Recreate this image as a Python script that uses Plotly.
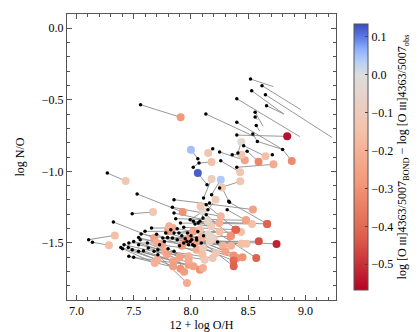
import plotly.graph_objects as go

# black dot = observed, coloured circle = BOND model; None = no model colour
x_obs = [8.52, 8.62, 8.53, 8.65, 8.40, 8.66, 8.56, 8.56, 8.57, 8.40, 8.13, 8.54, 8.58, 8.71, 8.02,
         8.40, 8.06, 8.07, 8.19, 8.25, 8.26, 8.41, 8.36, 8.40, 8.46, 8.49, 8.80, 8.14, 8.11, 8.18,
         8.33, 8.25, 7.56, 7.27,
         7.487, 7.530, 7.323, 7.852, 7.838, 7.852, 7.867, 7.909, 7.937, 7.656, 7.599, 7.565, 7.543,
         7.500, 7.458, 7.416, 7.388, 7.403, 7.453, 7.487, 7.543, 7.557, 7.458, 7.500, 7.543, 7.585,
         7.627, 7.678, 7.711, 7.711, 7.726, 7.768, 7.754, 7.796, 7.838, 7.852, 7.824, 7.880, 7.895,
         7.937, 7.965, 7.979, 7.993, 8.007, 8.015, 8.049, 8.063, 8.078, 8.021, 8.035, 7.993, 8.105,
         8.133, 8.148, 8.133, 8.162, 8.316, 8.336, 8.232, 7.852, 7.107, 7.140,
         7.90, 7.92, 7.95, 7.97, 8.00, 8.03, 8.05, 8.06, 8.09, 8.11, 7.88, 7.78, 7.70, 7.62, 7.80]
y_obs = [-0.356, -0.402, -0.437, -0.465, -0.493, -0.542, -0.588, -0.621, -0.681, -0.658, -0.600,
         -0.740, -0.791, -0.884, -0.972,
         -0.747, -0.912, -0.942, -0.842, -0.865, -0.926, -0.872, -0.884, -0.972, -0.821, -0.860,
         -0.847, -1.093, -1.186, -1.163, -1.209, -1.116, -0.535, -1.012,
         -1.296, -1.158, -1.354, -1.198, -1.251, -1.291, -1.331, -1.361, -1.391, -1.396, -1.419,
         -1.438, -1.461, -1.489, -1.500, -1.512, -1.531, -1.540, -1.531, -1.547, -1.512, -1.477,
         -1.593, -1.600, -1.558, -1.554, -1.535, -1.558, -1.547, -1.582, -1.512, -1.489, -1.465,
         -1.461, -1.465, -1.431, -1.407, -1.477, -1.431, -1.500, -1.489, -1.512, -1.489, -1.477,
         -1.512, -1.465, -1.361, -1.349, -1.349, -1.368, -1.338, -1.326, -1.303, -1.268, -1.233,
         -1.221, -1.268, -1.216, -1.493, -1.558, -1.477, -1.495,
         -1.52, -1.45, -1.47, -1.43, -1.45, -1.52, -1.48, -1.42, -1.50, -1.45, -1.40, -1.43, -1.44,
         -1.50, -1.54]
x_mod = [8.72, 8.96, 8.81, 9.23, 8.95, 8.81, 8.63, 8.58, 8.60, 8.80, 8.55, 8.58, 8.79, 8.72, 8.07,
         8.84, 8.00, 8.18, 8.15, 8.47, 8.43, 8.44, 8.44, 8.72, 8.65, 8.59, 8.88, 8.06, 8.18, 8.26,
         8.27, 8.43, 7.91, 7.43,
         7.669, 7.928, 7.680, 8.541, 8.260, 8.246, 8.480, 8.533, 8.387, 7.840, 7.800, 7.951, 7.750,
         7.770, 7.700, 7.790, 7.706, 7.684, 7.844, 7.844, 7.979, 8.035, 7.909, 7.979, 8.021, 8.078,
         8.105, 8.120, 8.190, 7.965, 8.049, 8.105, 8.091, 8.162, 8.344, 8.078, 7.810, 8.443, 8.437,
         8.485, 8.592, 8.400, 8.373, 8.747, 8.373, 8.373, 8.148, 8.570, 8.665, 8.176, 8.105, 8.083,
         8.350, 8.215, 8.395, 8.180, 8.480, 8.665, 8.443, 7.940, 7.335, 7.284,
         8.10, 8.20, 8.28, 8.15, 8.30, 8.22, 8.45, 8.25, 8.35, 8.18, 8.02, 7.98, 7.92, 7.90, 7.98]
y_mod = [-0.409, -0.570, -0.600, -0.763, -0.758, -0.600, -0.686, -0.640, -0.720, -0.847, -0.756,
         -0.791, -0.845, -0.886, -0.940,
         -0.756, -0.849, -0.935, -0.872, -0.923, -1.007, -0.795, -0.884, -0.951, -0.895, -0.933,
         -0.928, -1.012, -1.053, -1.058, -1.112, -1.070, -0.623, -1.067,
         -1.284, -1.284, -1.466, -1.267, -1.314, -1.361, -1.342, -1.367, -1.407, -1.395, -1.419,
         -1.489, -1.510, -1.558, -1.500, -1.580, -1.617, -1.640, -1.628, -1.663, -1.593, -1.500,
         -1.680, -1.652, -1.663, -1.687, -1.675, -1.617, -1.605, -1.780, -1.547, -1.535, -1.465,
         -1.489, -1.454, -1.407, -1.384, -1.505, -1.423, -1.505, -1.488, -1.605, -1.588, -1.507,
         -1.623, -1.663, -1.349, -1.605, -1.367, -1.384, -1.279, -1.244, -1.449, -1.198, -1.407,
         -1.230, -1.342, -1.367, -1.505, -1.700, -1.447, -1.516,
         -1.58, -1.47, -1.52, -1.44, -1.56, -1.57, -1.60, -1.42, -1.52, -1.46, -1.42, -1.47, -1.52,
         -1.60, -1.62]
delta = [None, None, None, None, None, None, None, None, None, None, None, None, None, None, None,
         -0.55, 0.05, -0.15, -0.12, -0.25, -0.12, -0.03, -0.12, -0.22, -0.15, -0.33, -0.32, 0.12,
         -0.08, 0.04, -0.12, -0.12, -0.28, -0.12,
         -0.12, -0.30, -0.25, -0.25, -0.18, -0.20, -0.25, -0.15, -0.42, -0.22, -0.28, -0.30, -0.25,
         -0.22, -0.22, -0.25, -0.20, -0.20, -0.25, -0.27, -0.20, -0.25, -0.30, -0.27, -0.25, -0.30,
         -0.20, -0.10, -0.12, -0.22, -0.22, -0.10, -0.20, -0.08, -0.30, -0.15, -0.20, -0.15, -0.15,
         -0.15, -0.45, -0.30, -0.30, -0.52, -0.40, -0.42, -0.05, -0.42, -0.42, -0.10, -0.03, -0.12,
         -0.30, -0.10, -0.42, None, -0.25, -0.42, -0.15, -0.27, -0.15, -0.15,
         -0.15, -0.10, -0.20, -0.05, -0.25, -0.12, -0.30, -0.15, -0.20, -0.05, -0.25, -0.30, -0.28,
         -0.25, -0.22]

cmin, cmax = -0.568, 0.134
z0 = -cmin / (cmax - cmin)
# coolwarm reversed, split at zero (two-slope)
red_half = [(180, 4, 38), (222, 96, 76), (244, 152, 122), (244, 195, 171), (221, 221, 221)]
blue_half = [(221, 221, 221), (184, 208, 246), (141, 176, 254), (90, 120, 228), (59, 76, 192)]
cscale = []
for i, c in enumerate(red_half):
    cscale.append([z0 * i / 4, "rgb(%d,%d,%d)" % c])
for i, c in enumerate(blue_half[1:], start=1):
    cscale.append([z0 + (1 - z0) * i / 4, "rgb(%d,%d,%d)" % c])

lx, ly = [], []
for a, b, c, d in zip(x_obs, y_obs, x_mod, y_mod):
    lx += [a, c, None]
    ly += [b, d, None]

cx = [x for x, v in zip(x_mod, delta) if v is not None]
cy = [y for y, v in zip(y_mod, delta) if v is not None]
cv = [v for v in delta if v is not None]

font = "Liberation Serif, Times New Roman, serif"
fig = go.Figure()
fig.add_trace(go.Scatter(x=lx, y=ly, mode="lines",
                         line=dict(color="#8c8c8c", width=0.9), hoverinfo="skip"))
fig.add_trace(go.Scatter(x=cx, y=cy, mode="markers",
                         marker=dict(size=8, color=cv, colorscale=cscale, cmin=cmin, cmax=cmax,
                                     line=dict(width=0),
                                     colorbar=dict(
                                         x=1.029, xanchor="left", y=0.5, yanchor="middle",
                                         len=1.0, lenmode="fraction", thickness=14,
                                         outlinecolor="#555", outlinewidth=1,
                                         tickvals=[0.1, 0.0, -0.1, -0.2, -0.3, -0.4, -0.5],
                                         tickformat=".1f", ticks="inside", ticklen=3,
                                         tickfont=dict(family=font, size=12, color="black"),
                                         title=dict(
                                             text="log [O <span style='font-size:9px'>III</span>]4363/5007<sub>BOND</sub>"
                                                  " − log [O <span style='font-size:9px'>III</span>]4363/5007<sub>obs</sub>",
                                             side="right",
                                             font=dict(family=font, size=12, color="black"))))))
fig.add_trace(go.Scatter(x=x_obs, y=y_obs, mode="markers",
                         marker=dict(size=3.5, color="black")))

axis = dict(showgrid=False, zeroline=False, showline=True, linecolor="#555", linewidth=1,
            mirror="allticks", ticks="inside", ticklen=5, tickcolor="#555", tickformat=".1f",
            tickfont=dict(family=font, size=12, color="black"), dtick=0.5,
            minor=dict(ticks="inside", ticklen=3, dtick=0.1, tickcolor="#555"))
fig.update_xaxes(axis, range=[6.918, 9.266], tick0=7.0,
                 title=dict(text="12 + log O/H", font=dict(family=font, size=12, color="black"),
                            standoff=1))
fig.update_yaxes(axis, range=[-1.898, 0.098], tick0=0.0,
                 title=dict(text="log N/O", font=dict(family=font, size=12, color="black"),
                            standoff=14))
fig.update_layout(width=419, height=332, margin=dict(l=59, r=82, t=6, b=40),
                  plot_bgcolor="white", paper_bgcolor="white", showlegend=False)
fig.write_html("out.html")
